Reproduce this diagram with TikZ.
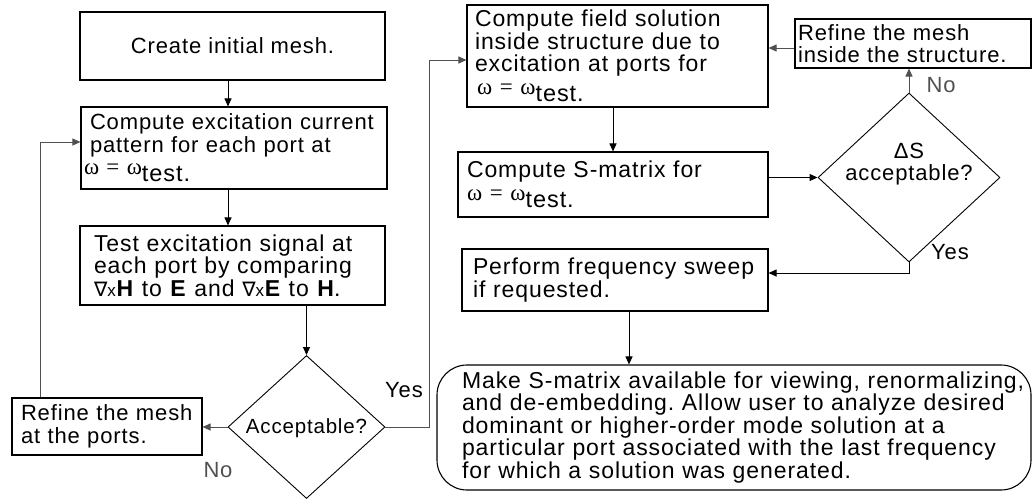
\documentclass[tikz,border=0pt]{standalone}
\usepackage{fontspec}
\setmainfont{Liberation Sans}[LetterSpace=4]
\newfontfamily\symfont{Liberation Serif}
\newfontfamily\nablafont{DejaVu Sans}
\usetikzlibrary{shapes.geometric,arrows.meta}
\definecolor{fb}{RGB}{80,80,80}
\newcommand{\omt}{{\symfont\fontsize{23}{23}\selectfont ω = ω}\raisebox{-7pt}{\fontsize{23.5}{23.5}\selectfont test.}}
\newcommand{\nabx}{{\nablafont\fontsize{20}{20}\selectfont ∇}{\fontsize{17}{17}\selectfont x}}
\newcommand{\Li}[1]{\mbox{#1}}
\frenchspacing
\begin{document}
\begin{tikzpicture}[x=1pt,y=-1pt,
  every node/.style={font=\fontsize{22}{22.5}\selectfont},
  big/.style={font=\fontsize{23}{22.5}\selectfont},
  box/.style={draw, rectangle, inner sep=0pt, align=left, line width=1.1pt},
  dia/.style={draw, diamond, inner sep=0pt, line width=0.9pt},
  arr/.style={-{Triangle[length=8pt,width=7pt]}, line width=1pt},
  garr/.style={arr, color=fb},
  lbl/.style={inner sep=0pt}]
\useasboundingbox (0,0) rectangle (1032,498);

% left column
\node[box, align=center, minimum width=305pt, minimum height=68pt] (b1) at (232.5,46) {Create initial mesh.};
\node[box, minimum width=306pt, minimum height=82pt, text width=288pt] (b2) at (234,148)
  {\Li{Compute excitation current}\\\Li{pattern for each port at}\\\Li{\hspace*{-6pt}\omt}};
\node[box, big, minimum width=305pt, minimum height=79pt, text width=277pt] (b3) at (232.5,265.5)
  {\Li{Test excitation signal at}\\\Li{each port by comparing}\\\Li{\nabx\textbf{H} to \textbf{E} and \nabx\textbf{E} to \textbf{H}.}};
\node[dia, minimum width=157pt, minimum height=143pt] (d1) at (306.5,427) {};
\node[lbl, font=\fontsize{20.5}{22}\selectfont] (d1t) at (306.5,428) {Acceptable?};
\node[box, minimum width=190pt, minimum height=57pt, text width=172pt] (r1) at (107,426.5)
  {\Li{Refine the mesh}\\\Li{at the ports.}};

% right column
\node[box, big, minimum width=301pt, minimum height=102pt, text width=285pt] (b4) at (617.5,56)
  {\Li{Compute field solution}\\\Li{inside structure due to}\\\Li{excitation at ports for}\\\Li{\hspace*{2pt}\omt}};
\node[box, big, minimum width=310pt, minimum height=65pt, text width=292pt] (b5) at (613,184.5)
  {\Li{Compute S-matrix for}\\\Li{\omt}};
\node[box, minimum width=236pt, minimum height=49pt, text width=230pt] (r2) at (913,43.5)
  {\Li{Refine the mesh}\\\Li{inside the structure.}};
\node[dia, minimum width=182pt, minimum height=169pt] (d2) at (909,177.5) {};
\node[lbl, align=center] (d2t) at (909,164) {ΔS\\acceptable?};
\node[box, big, minimum width=306pt, minimum height=62pt, text width=284pt] (b6) at (615,280)
  {\Li{Perform frequency sweep}\\\Li{if requested.}};
\node[box, big, rounded corners=30pt, minimum width=594pt, minimum height=125pt, text width=544pt] (b7) at (734,427.5)
  {\Li{Make S-matrix available for viewing, renormalizing,}\\\Li{and de-embedding. Allow user to analyze desired}\\\Li{dominant or higher-order mode solution at a}\\\Li{particular port associated with the last frequency}\\\Li{for which a solution was generated.}};

% helper coordinates
\coordinate (ybend) at (429,0);
\coordinate (sweepy) at (0,273);

% connectors
\draw[arr] ([xshift=-4.5pt]b1.south) -- ([xshift=-4.5pt]b1.south |- b2.north);
\draw[arr] ([xshift=-6pt]b2.south) -- ([xshift=-6pt]b2.south |- b3.north);
\draw[arr] (d1.north |- b3.south) -- (d1.north);
\draw[garr] (d1.west) -- (d1.west -| r1.east);
\draw[garr] ([xshift=-67pt]r1.north) |- ([yshift=6pt]b2.west);
\draw[garr] (d1.east) -- (d1.east -| ybend) |- ([yshift=-4pt]b4.west);
\draw[arr] (b5.north |- b4.south) -- (b5.north);
\draw[arr] (d2.west -| b5.east) -- (d2.west);
\draw[garr] (d2.north) -- (d2.north |- r2.south);
\draw[garr] ([yshift=-4.5pt]r2.west) -- ([yshift=-4.5pt]r2.west -| b4.east);
\draw[arr] (d2.south) -- (d2.south |- sweepy) -- (sweepy -| b6.east);
\draw[arr] ([xshift=14pt]b6.south) -- ([xshift=14pt]b6.south |- b7.north);

% labels
\node[lbl, text=fb] (no1) at (218,470) {No};
\node[lbl] (yes1) at (404,390) {Yes};
\node[lbl, text=fb] (no2) at (941,85) {No};
\node[lbl] (yes2) at (950,252) {Yes};
\end{tikzpicture}
\end{document}
